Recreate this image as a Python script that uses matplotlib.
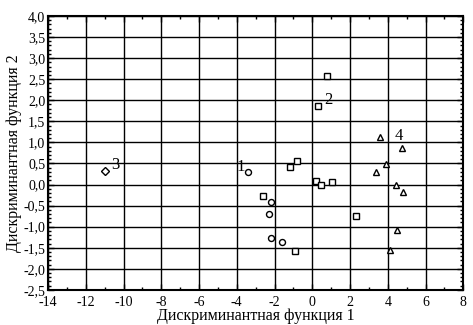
import matplotlib
matplotlib.use("Agg")
import matplotlib.pyplot as plt
from matplotlib.ticker import MultipleLocator, FuncFormatter

plt.rcParams['font.family'] = ['Liberation Serif', 'DejaVu Serif']
plt.rcParams['axes.unicode_minus'] = False

# group 1 - circles
g1_x = [-3.4, -2.2, -2.3, -2.2, -1.6]
g1_y = [0.30, -0.41, -0.70, -1.26, -1.36]
# group 2 - squares
g2_x = [0.8, 0.3, -1.2, -0.8, -2.6, 0.2, 0.45, 1.05, -0.9, 2.3]
g2_y = [2.57, 1.87, 0.42, 0.55, -0.27, 0.09, -0.01, 0.05, -1.58, -0.75]
# group 3 - diamond
g3_x = [-11.0]
g3_y = [0.33]
# group 4 - triangles
g4_x = [3.6, 4.75, 3.9, 3.35, 4.45, 4.8, 4.5, 4.1]
g4_y = [1.13, 0.86, 0.49, 0.29, 0.0, -0.17, -1.09, -1.55]

group_labels = ["1", "2", "3", "4"]
label_x = [-3.8, 0.85, -10.45, 4.6]
label_y = [0.42, 2.0, 0.47, 1.15]

fig = plt.figure(figsize=(4.73, 3.25), dpi=100)
ax = fig.add_axes([0.1015, 0.108, 0.878, 0.843])

mk = dict(linestyle="none", mfc="white", mec="black", mew=1.0, ms=4.3, zorder=3)
ax.plot(g1_x, g1_y, marker="o", **mk)
ax.plot(g2_x, g2_y, marker="s", **mk)
ax.plot(g3_x, g3_y, marker="D", **dict(mk, ms=3.6))
ax.plot(g4_x, g4_y, marker="^", **mk)

for t, x, y in zip(group_labels, label_x, label_y):
    ax.text(x, y, t, fontsize=12, ha="center", va="center", zorder=4)

ax.set_xlim(-14, 8)
ax.set_ylim(-2.5, 4.0)
ax.xaxis.set_major_locator(MultipleLocator(2))
ax.xaxis.set_minor_locator(MultipleLocator(1))
ax.yaxis.set_major_locator(MultipleLocator(0.5))
ax.yaxis.set_minor_locator(MultipleLocator(0.1))
ax.yaxis.set_major_formatter(FuncFormatter(lambda v, p: f"{v:.1f}".replace(".", ",")))
ax.xaxis.set_major_formatter(FuncFormatter(lambda v, p: f"{v:.0f}"))

ax.grid(True, which="major", color="black", linewidth=1.0)
ax.set_axisbelow(True)
ax.tick_params(which="both", direction="in", top=True, right=True, labelsize=10, colors="black")
ax.tick_params(axis="y", pad=2)
ax.tick_params(axis="x", pad=4.5)
ax.tick_params(which="major", length=4, width=1)
ax.tick_params(which="minor", length=2.5, width=1)
for s in ax.spines.values():
    s.set_linewidth(1.5)

ax.set_xlabel("Дискриминантная функция 1", fontsize=11.5, labelpad=-1)
ax.set_ylabel("Дискриминантная функция 2", fontsize=11.5, labelpad=1)

fig.savefig("out.png", dpi=100)
